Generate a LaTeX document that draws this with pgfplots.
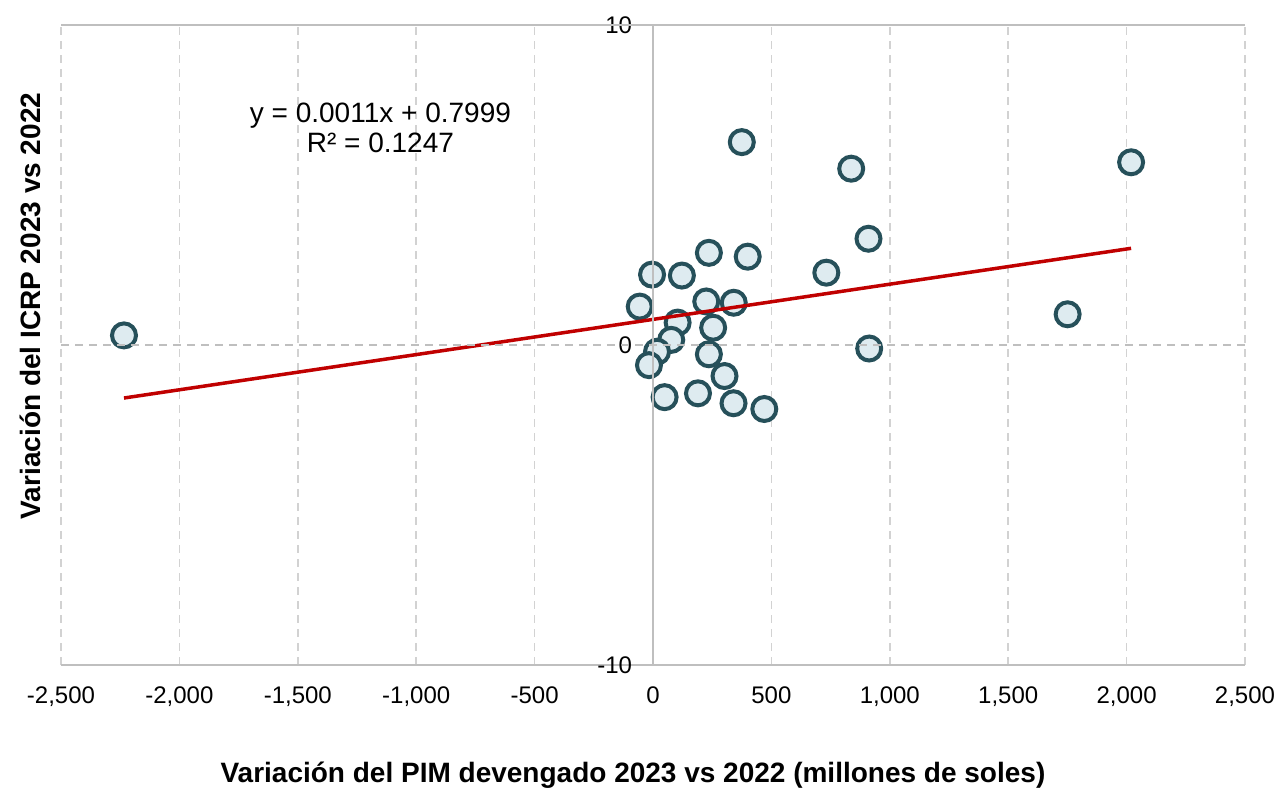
\documentclass[border=0pt]{standalone}
\usepackage{pgfplots}
\pgfplotsset{compat=1.18}
\usepackage{fontspec}
\setmainfont{Liberation Sans}

\definecolor{mkfill}{RGB}{222,235,240}
\definecolor{mkedge}{RGB}{38,80,90}
\definecolor{trend}{RGB}{192,0,0}
\definecolor{gridc}{RGB}{210,210,210}
\definecolor{axisc}{RGB}{191,191,191}

\begin{document}
\begin{tikzpicture}
\begin{axis}[
    scale only axis,
    width=592bp, height=320bp,
    xmin=-2500, xmax=2500,
    ymin=-10, ymax=10,
    enlargelimits=false,
    clip mode=individual,
    axis x line=bottom,
    axis y line=middle,
    axis line style={-, draw=axisc, line width=0.75bp},
    hide obscured x ticks=false,
    hide obscured y ticks=false,
    xtick={-2500,-2000,...,2500},
    ytick={-10,0,10},
    major tick length=0pt,
    xmajorgrids, ymajorgrids,
    major grid style={draw=gridc, line width=0.75bp, dash pattern=on 4bp off 3bp},
    tick label style={font=\fontsize{12bp}{14bp}\selectfont},
    xticklabel style={yshift=-7.5bp},
    yticklabel style={xshift=-7bp},
    /pgf/number format/.cd, 1000 sep={,}, assume math mode=true,
]
% circles for the departments
\addplot[only marks, mark=*, mark size=6bp,
    mark options={fill=mkfill, draw=mkedge, line width=2bp}]
coordinates {
(-2234,0.30) (375,6.34) (837,5.51) (2019,5.71) (910,3.32)
(236,2.88) (400,2.76) (-4,2.20) (122,2.17) (732,2.26)
(-56,1.20) (225,1.36) (341,1.32) (1751,0.96) (104,0.70)
(254,0.54) (77,0.16) (17,-0.21) (-17,-0.63) (236,-0.29)
(913,-0.11) (302,-0.97) (49,-1.63) (190,-1.51) (340,-1.82)
(470,-2.00)
};
% linear trend
\addplot[trend, line width=1.75bp] coordinates {(-2234,-1.657) (2019,3.021)};

% top border and y=0 line
\draw[axisc, line width=0.75bp] (axis cs:-2500,10) -- (axis cs:2500,10);
\draw[axisc, line width=0.75bp, dash pattern=on 4bp off 3bp] (axis cs:-2500,0) -- (axis cs:2500,0);
\draw[axisc, line width=0.75bp] (axis cs:0,-10) -- (axis cs:0,10);

\node[align=center, font=\fontsize{14bp}{15bp}\selectfont] at (axis cs:-1151,6.8)
    {y = 0.0011x + 0.7999\\R² = 0.1247};

\node[font=\bfseries\fontsize{14bp}{16bp}\selectfont] at (rel axis cs:0.4831,-0.1719)
    {Variación del PIM devengado 2023 vs 2022 (millones de soles)};
\node[font=\bfseries\fontsize{14bp}{16bp}\selectfont, rotate=90] at (rel axis cs:-0.0262,0.561)
    {Variación del ICRP 2023 vs 2022};
\end{axis}
\pgfresetboundingbox
\path ([shift={(-30.5bp,-62.5bp)}]current axis.south west) rectangle ([shift={(17.5bp,12.5bp)}]current axis.north east);
\end{tikzpicture}
\end{document}
